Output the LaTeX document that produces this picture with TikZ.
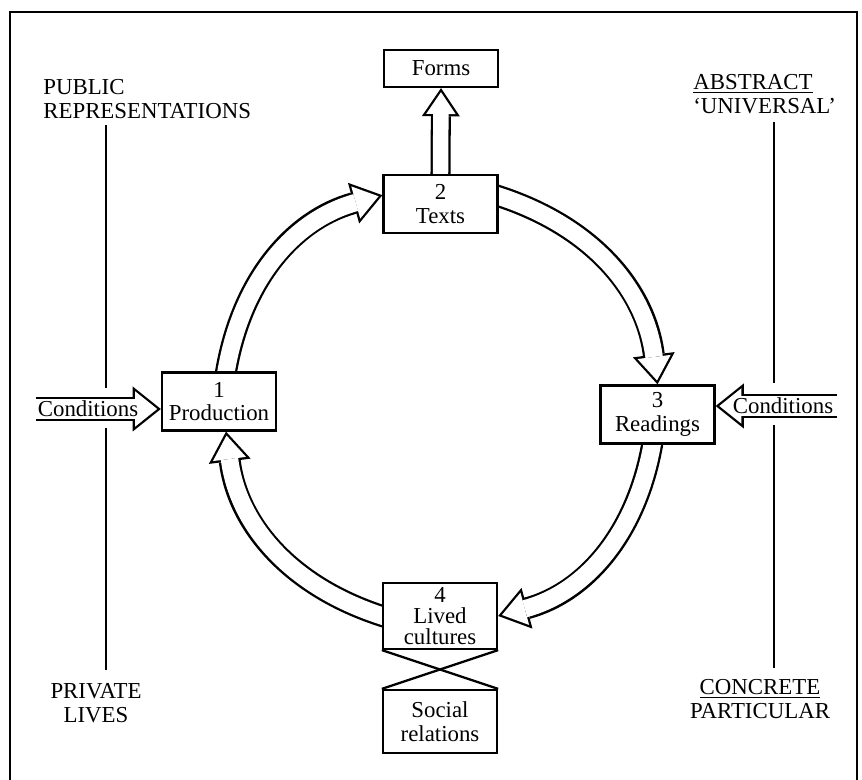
\documentclass[tikz,border=0pt]{standalone}
\usepackage{fontspec}
\setmainfont{Liberation Serif}
\usetikzlibrary{arrows.meta}
\usetikzlibrary{backgrounds}

\begin{document}
\begin{tikzpicture}[
  every node/.style={font=\fontsize{13}{13.5}\selectfont},
  stage/.style={draw, line width=1.3pt, fill=white, align=center, inner sep=1pt, minimum width=2.28cm},
  side/.style={inner sep=0pt},
  roundarrow/.style={line width=12.5pt, shorten <=-4pt, -{Triangle[length=17pt, width=24pt, line width=0pt]},
    postaction={draw=white, line width=9.9pt, shorten >=2.25pt, -{Triangle[length=13.45pt, width=19pt, line width=0pt]}}},
  sidearrow/.style={line width=13.7pt, -{Triangle[length=16pt, width=25.6pt, line width=0pt]},
    postaction={draw=white, line width=11.1pt, shorten >=2.1pt, -{Triangle[length=12.6pt, width=20.2pt, line width=0pt]}}},
  formsarrow/.style={line width=11.4pt, shorten <=-2pt, -{Triangle[length=16pt, width=21.6pt, line width=0pt]},
    postaction={draw=white, line width=8.8pt, shorten >=2.3pt, -{Triangle[length=12.4pt, width=16.7pt, line width=0pt]}}}
]
\useasboundingbox (0,0) rectangle (17.24,15.6);

% frame
\draw[line width=1.3pt] (0.2,-0.5) -- (0.2,15.36) -- (17.14,15.36) -- (17.14,-0.5);

% the four moments
\node[stage, minimum height=0.74cm] (forms) at (8.82,14.23) {Forms};
\node[stage, minimum height=1.16cm] (texts) at (8.81,11.52) {2\\Texts};
\node[stage, minimum height=1.16cm] (prod) at (4.38,7.57) {1\\Production};
\node[stage, minimum height=1.16cm] (read) at (13.15,7.31) {3\\Readings};
\node[stage, minimum height=1.32cm, font=\fontsize{13}{12}\selectfont] (lived) at (8.8,3.28) {4\\Lived\\cultures};
\node[stage, minimum height=1.26cm] (social) at (8.8,1.17) {Social\\relations};
\draw[line width=1.3pt] (lived.south west) -- (social.north east);
\draw[line width=1.3pt] (lived.south east) -- (social.north west);

% left side
\node[side, anchor=west, align=left] (public) at (0.86,13.62) {PUBLIC\\REPRESENTATIONS};
\node[side, align=center] (private) at (1.92,1.54) {PRIVATE\\LIVES};
\coordinate (leftA) at (2.12,13.1);
\coordinate (leftB) at (2.12,7.84);
\coordinate (leftC) at (2.12,7.04);
\coordinate (leftD) at (2.12,2.2);
\draw[line width=1.3pt] (leftA) -- (leftB);
\draw[line width=1.3pt] (leftC) -- (leftD);
\node[side] (condL) at (1.76,7.42) {Conditions};

% right side
\node[side, anchor=west, align=left] (abstract) at (13.86,13.72) {\underline{ABSTRACT}\\`UNIVERSAL'};
\node[side, align=center] (concrete) at (15.2,1.62) {\underline{CONCRETE}\\PARTICULAR};
\coordinate (rightA) at (15.48,13.16);
\coordinate (rightB) at (15.48,7.94);
\coordinate (rightC) at (15.48,7.1);
\coordinate (rightD) at (15.48,2.24);
\draw[line width=1.3pt] (rightA) -- (rightB);
\draw[line width=1.3pt] (rightC) -- (rightD);
\node[side] (condR) at (15.66,7.48) {Conditions};

% circuit
\begin{scope}[on background layer]
\draw[roundarrow] ([xshift=4pt]prod.north) to[bend left=33] ([yshift=5pt]texts.west);
\draw[roundarrow] ([yshift=4.5pt]texts.east) to[bend left=33] (read.north);
\draw[roundarrow] ([xshift=-3pt]read.south) to[bend left=33] (lived.east);
\draw[roundarrow] (lived.west) to[bend left=33] ([xshift=4pt]prod.south);
\draw[formsarrow] (texts.north) -- (forms.south);
\draw[sidearrow] ([xshift=-1pt]condL.west) -- (prod.west |- condL);
\draw[sidearrow] ([xshift=2pt]condR.east) -- (read.east |- condR);
\end{scope}

\end{tikzpicture}
\end{document}
